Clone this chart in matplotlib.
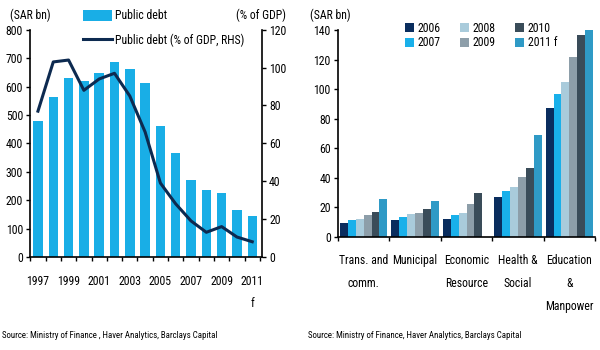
import matplotlib
matplotlib.use("Agg")
import matplotlib.pyplot as plt
import numpy as np
from matplotlib.lines import Line2D
from matplotlib.patches import Patch

plt.rcParams['font.family'] = ['Liberation Sans Narrow', 'Roboto Condensed', 'Liberation Sans', 'DejaVu Sans']

# Left chart data
years = [1997, 1998, 1999, 2000, 2001, 2002, 2003, 2004, 2005, 2006, 2007, 2008, 2009, 2010, 2011]
debt_sar = [479, 563, 630, 620, 648, 686, 662, 613, 461, 366, 271, 236, 225, 165, 143]
debt_pct = [77, 103, 104, 88, 94, 97, 85, 66, 39, 28, 19, 13, 16, 10.5, 8]
year_labels = ['1997', '1999', '2001', '2003', '2005', '2007', '2009', '2011\nf']

# Right chart data
sectors = ['Trans. and\ncomm.', 'Municipal', 'Economic\nResource', 'Health &\nSocial', 'Education\n&\nManpower']
series_names = ['2006', '2007', '2008', '2009', '2010', '2011 f']
s2006 = [9.7, 11.5, 12.4, 26.9, 87]
s2007 = [11.5, 13.3, 14.7, 31.4, 96.5]
s2008 = [12.4, 15.5, 16.4, 34, 104.6]
s2009 = [14.7, 16.4, 22, 40.8, 122]
s2010 = [16.7, 19, 29.6, 46.4, 136.8]
s2011 = [26, 24.5, np.nan, 68.8, 141.8]

bar_color = '#19aee6'
line_color = '#0d2a50'
series_colors = ['#0a2d5e', '#19b0ea', '#a9cbdb', '#8d9ea9', '#3a4c59', '#2f9ac6']

fs = 8.5
fig = plt.figure(figsize=(6, 3.5), dpi=100)

# ---------- Left chart ----------
ax = fig.add_axes([0.05, 0.266, 0.387, 0.649])
x = np.arange(len(years))
ax.bar(x, debt_sar, width=0.62, color=bar_color, zorder=2)
ax.set_ylim(0, 800)
ax.set_yticks(range(0, 801, 100))
ax.set_xlim(-0.52, 14.65)
ax.set_xticks(x[::2])
ax.set_xticklabels(year_labels, fontsize=fs, linespacing=1.9)
ax.set_xticks(np.arange(-0.5, 15, 1), minor=True)
ax.tick_params(axis='x', which='major', length=0, pad=13)
ax.tick_params(axis='x', which='minor', length=3, width=1)
ax.tick_params(axis='y', labelsize=fs, length=3, width=1, pad=2)
ax.spines['top'].set_visible(False)
ax.spines['right'].set_visible(False)
for s in ['left', 'bottom']:
    ax.spines[s].set_linewidth(1.2)

ax2 = ax.twinx()
ax2.plot(x, debt_pct, color=line_color, lw=2.2, zorder=3)
ax2.set_ylim(0, 120)
ax2.set_yticks(range(0, 121, 20))
ax2.tick_params(axis='y', labelsize=fs, length=3, width=1, pad=2)
ax2.spines['top'].set_visible(False)
ax2.spines['left'].set_visible(False)
ax2.spines['bottom'].set_visible(False)
ax2.spines['right'].set_linewidth(1.2)

fig.text(10/600, 1-15/350, '(SAR bn)', fontsize=fs, va='center', ha='left')
fig.text(286/600, 1-15/350, '(% of GDP)', fontsize=fs, va='center', ha='right')

handles = [Patch(facecolor=bar_color, edgecolor='none'),
           Line2D([0], [0], color=line_color, lw=2.2)]
fig.legend(handles, ['Public debt', 'Public debt (% of GDP, RHS)'],
           loc='upper left', bbox_to_anchor=(75/600, 1-1/350), frameon=False,
           fontsize=fs, handlelength=2.4, handleheight=1.1, handletextpad=0.25,
           labelspacing=0.95, borderpad=0.2)

# ---------- Right chart ----------
bx = fig.add_axes([0.563, 0.323, 0.429, 0.591])
gx = np.arange(len(sectors))
all_series = [s2006, s2007, s2008, s2009, s2010, s2011]
n = len(all_series)
bw = 0.155
for i, (vals, c, name) in enumerate(zip(all_series, series_colors, series_names)):
    bx.bar(gx + (i - (n - 1) / 2) * bw, vals, width=bw, color=c, label=name)
bx.set_ylim(0, 140)
bx.set_yticks(range(0, 141, 20))
bx.set_xlim(-0.5, 4.5)
bx.set_xticks(gx)
bx.set_xticklabels(sectors, fontsize=fs, va='top', linespacing=2.0)
bx.set_xticks(np.arange(-0.5, 5, 1), minor=True)
bx.tick_params(axis='x', which='major', length=0, pad=12)
bx.tick_params(axis='x', which='minor', length=3, width=1)
bx.tick_params(axis='y', labelsize=fs, length=3, width=1, pad=2)
bx.spines['top'].set_visible(False)
bx.spines['right'].set_visible(False)
for s in ['left', 'bottom']:
    bx.spines[s].set_linewidth(1.2)

fig.text(310/600, 1-15/350, '(SAR bn)', fontsize=fs, va='center', ha='left')
bx.legend(loc='upper left', bbox_to_anchor=(399/600, 1-16/350), bbox_transform=fig.transFigure,
          ncol=3, frameon=False, fontsize=fs, handlelength=0.8, handleheight=0.8,
          handletextpad=0.3, columnspacing=1.6, labelspacing=0.12, borderpad=0)

fs_src = 6.4
fig.text(2/600, 1-336/350, 'Source: Ministry of Finance , Haver Analytics, Barclays Capital', fontsize=fs_src, va='center')
fig.text(308/600, 1-336/350, 'Source: Ministry of Finance, Haver Analytics, Barclays Capital', fontsize=fs_src, va='center')

fig.savefig('out.png', dpi=100)
